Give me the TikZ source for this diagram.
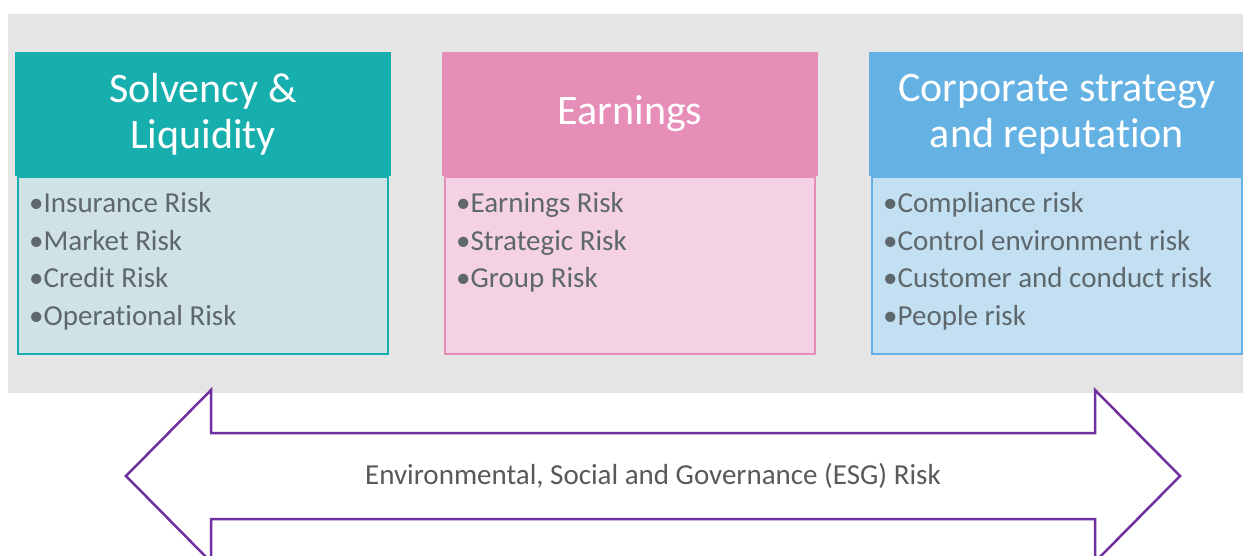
\documentclass[tikz,border=0pt]{standalone}
\usepackage{fontspec}
\setmainfont[Ligatures={NoCommon}]{Carlito}
\usepackage{xcolor}
\usetikzlibrary{positioning}
\definecolor{bgGrey}{HTML}{E5E5E5}
\definecolor{solvTeal}{HTML}{17AFAD}
\definecolor{solvLight}{HTML}{CFE3E6}
\definecolor{earnPink}{HTML}{E68DB8}
\definecolor{earnLight}{HTML}{F4D1E3}
\definecolor{corpBlue}{HTML}{64B2E3}
\definecolor{corpLight}{HTML}{C3E0F2}
\definecolor{riskGrey}{HTML}{5E676C}
\definecolor{esgPurple}{HTML}{7030A0}
\definecolor{esgText}{HTML}{595959}

\begin{document}
\begin{tikzpicture}[
    x=1pt, y=-1pt,
    nosep/.style={inner sep=0},
    headbox/.style={rectangle, nosep, minimum width=376pt, minimum height=124pt,
        text=white, align=center, font=\fontsize{42}{46}\selectfont},
    bodybox/.style={rectangle, nosep, minimum width=370pt, minimum height=177pt, line width=2pt},
    itemlist/.style={nosep, align=left, anchor=north west, text=riskGrey,
        font=\fontsize{29}{37.5}\selectfont},
    esgarrow/.style={draw=esgPurple, line width=2.5pt, fill=white, line join=miter},
    esglabel/.style={text=esgText, font=\fontsize{29}{32}\selectfont}]
\useasboundingbox (0,0) rectangle (1243,556);
\clip (0,0) rectangle (1243,556);

% grey panel
\fill[bgGrey] (8,14) rectangle (1260,393);

% solvency & liquidity
\node[headbox, fill=solvTeal] (solvhead) at (203,114) {Solvency \&\\Liquidity};
\node[bodybox, fill=solvLight, draw=solvTeal, below=0pt of solvhead] (solvbody) {};
\node[itemlist] (solvlist) at ([xshift=12pt, yshift=-16pt]solvbody.north west)
    {•Insurance Risk\\•Market Risk\\•Credit Risk\\•Operational Risk};

% earnings
\node[headbox, fill=earnPink] (earnhead) at (630,114) {Earnings};
\node[bodybox, fill=earnLight, draw=earnPink, below=0pt of earnhead] (earnbody) {};
\node[itemlist] (earnlist) at ([xshift=12pt, yshift=-16pt]earnbody.north west)
    {•Earnings Risk\\•Strategic Risk\\•Group Risk};

% corporate strategy
\node[headbox, fill=corpBlue] (corphead) at (1057,114) {Corporate strategy\\and reputation};
\node[bodybox, fill=corpLight, draw=corpBlue, below=0pt of corphead] (corpbody) {};
\node[itemlist] (corplist) at ([xshift=12pt, yshift=-16pt]corpbody.north west)
    {•Compliance risk\\•Control environment risk\\•Customer and conduct risk\\•People risk};

% ESG double arrow
\draw[esgarrow] (126,476) -- (211,390) -- (211,433) -- (1095,433) -- (1095,390)
    -- (1180,476) -- (1095,562) -- (1095,519) -- (211,519) -- (211,562) -- cycle;
\node[esglabel] (esgtext) at (653,476) {Environmental, Social and Governance (ESG) Risk};

\end{tikzpicture}
\end{document}
